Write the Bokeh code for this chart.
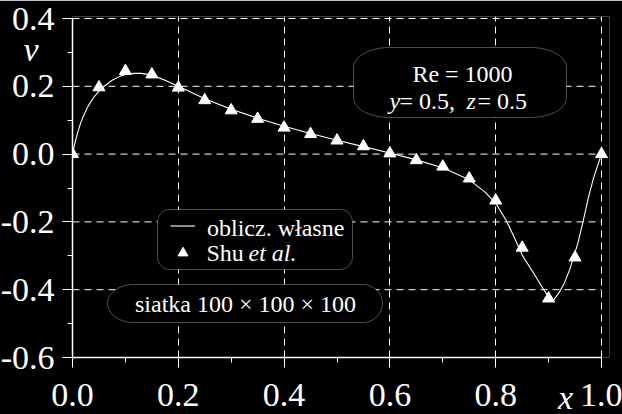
from bokeh.plotting import figure
from bokeh.models import (Range1d, FixedTicker, Label, PolyAnnotation, Legend, LegendItem,
                          LinearAxis)
from bokeh.embed import file_html
from bokeh.resources import INLINE
import math

# ---------------- data ----------------
curve_x = [0.0, 0.005, 0.01, 0.015, 0.02, 0.03, 0.04, 0.05, 0.06, 0.075, 0.09, 0.1,
           0.115, 0.13, 0.15, 0.175, 0.2, 0.25, 0.3, 0.35, 0.4, 0.45, 0.5, 0.55,
           0.6, 0.65, 0.7, 0.75, 0.78, 0.8, 0.82, 0.835, 0.85, 0.87, 0.89, 0.9,
           0.91, 0.92, 0.93, 0.94, 0.955, 0.965, 0.975, 0.985, 1.0]
curve_v = [0.0, 0.035, 0.065, 0.09, 0.11, 0.143, 0.167, 0.186, 0.2, 0.218, 0.23, 0.235,
           0.238, 0.238, 0.233, 0.218, 0.2, 0.163, 0.132, 0.106, 0.082, 0.061, 0.041, 0.022,
           0.003, -0.017, -0.04, -0.076, -0.112, -0.145, -0.196, -0.245, -0.298, -0.347, -0.398, -0.421,
           -0.43, -0.408, -0.38, -0.34, -0.265, -0.2, -0.13, -0.07, 0.0]

shu_x = [0.0, 0.05, 0.1, 0.15, 0.2, 0.25, 0.3, 0.35, 0.4, 0.45, 0.5,
         0.55, 0.6, 0.65, 0.7, 0.75, 0.8, 0.85, 0.9, 0.95, 1.0]
shu_v = [0.0, 0.197, 0.245, 0.235, 0.196, 0.159, 0.129, 0.104, 0.078, 0.059, 0.040,
         0.023, 0.002, -0.018, -0.037, -0.072, -0.137, -0.276, -0.426, -0.305, 0.0]

x_ticks = [0.0, 0.2, 0.4, 0.6, 0.8, 1.0]
x_tick_labels = ["0.0", "0.2", "0.4", "0.6", "0.8", "1.0"]
x_minor = [0.1, 0.3, 0.5, 0.7, 0.9]
y_ticks = [-0.6, -0.4, -0.2, 0.0, 0.2, 0.4]
y_tick_labels = ["-0.6", "-0.4", "-0.2", "0.0", "0.2", "0.4"]
y_minor = [-0.5, -0.3, -0.1, 0.1, 0.3]
x_name, y_name = "x", "v"
legend_texts = ["oblicz. w\u0142asne", "Shu", "et al."]

# ---------------- layout (page pixels) ----------------
AX_L, AX_W, AX_T, AX_H = 72, 529, 18, 339     # data box [0,1]x[-0.6,0.4] on the page
X0, X1, Y0, Y1 = 0.0, 1.0, -0.6, 0.4
PAD_R, PAD_T = 8, 2                          # extra frame room so edge markers are not clipped
SHIFT = 3                                    # canvas shifted left so the left panel fits
BORDER_L = AX_L + SHIFT
LABEL_DY = 6                                 # baseline correction for 24px labels

def px2x(px):
    return X0 + (px - AX_L) / AX_W * (X1 - X0)

def py2y(py):
    return Y1 - (py - AX_T) / AX_H * (Y1 - Y0)

WHITE = "#ffffff"
SERIF = "'Liberation Serif'"

p = figure(frame_width=AX_W + PAD_R, frame_height=AX_H + PAD_T,
           x_range=Range1d(X0, X1 + PAD_R / AX_W),
           y_range=Range1d(Y0, Y1 + PAD_T / AX_H * (Y1 - Y0)),
           output_backend="svg", toolbar_location=None,
           background_fill_color="black", border_fill_color="black",
           outline_line_color=None,
           min_border_left=BORDER_L, min_border_right=622 + SHIFT - BORDER_L - AX_W - PAD_R,
           min_border_top=AX_T - PAD_T, min_border_bottom=414 - AX_T - AX_H)
p.margin = (0, 0, 0, -SHIFT)

for ax, ticks, minor, labels, standoff in ((p.xaxis[0], x_ticks, x_minor, x_tick_labels, 16),
                                           (p.yaxis[0], y_ticks, y_minor, y_tick_labels, 8)):
    ax.ticker = FixedTicker(ticks=ticks, minor_ticks=minor)
    ax.major_label_overrides = {t: l for t, l in zip(ticks, labels)}
    ax.bounds = (ticks[0], ticks[-1])
    ax.axis_line_color = WHITE
    ax.axis_line_width = 1.5
    ax.major_tick_line_color = WHITE
    ax.minor_tick_line_color = WHITE
    ax.major_tick_out = 10
    ax.major_tick_in = 0
    ax.minor_tick_out = 5
    ax.minor_tick_in = 0
    ax.major_label_text_color = WHITE
    ax.major_label_text_font = SERIF
    ax.major_label_text_font_size = "34px"
    ax.major_label_standoff = standoff

# axis names drawn by two label-only axes
def name_axis(tick, label, standoff):
    return LinearAxis(ticker=FixedTicker(ticks=[tick], minor_ticks=[]),
                      major_label_overrides={tick: label},
                      axis_line_color=None, major_tick_line_color=None,
                      minor_tick_line_color=None, major_tick_out=0, minor_tick_out=0,
                      major_tick_in=0, minor_tick_in=0,
                      major_label_standoff=standoff,
                      major_label_text_color=WHITE, major_label_text_font=SERIF,
                      major_label_text_font_style="italic",
                      major_label_text_font_size="34px")

p.add_layout(name_axis(py2y(48.5), y_name, -(38 + SHIFT)), "left")
p.add_layout(name_axis(px2x(565), x_name, -30), "below")

# grid: vertical via Grid, horizontal via segments limited to [0, 1]
p.xgrid.ticker = FixedTicker(ticks=x_ticks[1:])
p.xgrid.grid_line_color = WHITE
p.xgrid.grid_line_dash = "7 5"
p.xgrid.grid_line_width = 1
p.ygrid.visible = False
gy = y_ticks[1:]
p.segment(x0=[x_ticks[0]] * len(gy), x1=[x_ticks[-1]] * len(gy), y0=gy, y1=gy,
          line_color=WHITE, line_width=1, line_dash="7 5")

# data
r_line = p.line(curve_x, curve_v, line_color=WHITE, line_width=1.1)
r_tri = p.scatter(shu_x, shu_v, marker="triangle", size=12,
                  fill_color=WHITE, line_color=WHITE)

# rounded boxes
def rounded(left, right, top, bottom, rxl, rxr, ry, n=12):
    pts = []
    for i in range(n + 1):
        a = -math.pi / 2 + (math.pi / 2) * i / n
        pts.append((right - rxr + rxr * math.cos(a), top + ry + ry * math.sin(a)))
    for i in range(n + 1):
        a = (math.pi / 2) * i / n
        pts.append((right - rxr + rxr * math.cos(a), bottom - ry + ry * math.sin(a)))
    for i in range(n + 1):
        a = math.pi / 2 + (math.pi / 2) * i / n
        pts.append((left + rxl + rxl * math.cos(a), bottom - ry + ry * math.sin(a)))
    for i in range(n + 1):
        a = math.pi + (math.pi / 2) * i / n
        pts.append((left + rxl + rxl * math.cos(a), top + ry + ry * math.sin(a)))
    return PolyAnnotation(xs=[px2x(a) for a, b in pts], ys=[py2y(b) for a, b in pts],
                          fill_color="black", fill_alpha=1.0,
                          line_color=WHITE, line_width=1, level="annotation")

p.add_layout(rounded(353, 566, 47, 117, 36, 36, 20))
p.add_layout(rounded(157, 352, 209, 269, 12, 12, 13))
p.add_layout(rounded(107, 382, 284, 322, 26, 20, 19))

def lab(text, px, py, size="24px", style="normal", align="left"):
    p.add_layout(Label(x=px2x(px), y=py2y(py - LABEL_DY), text=text, text_color=WHITE,
                       text_font=SERIF, text_font_size=size, text_font_style=style,
                       text_align=align, text_baseline="alphabetic"))

lab("Re = 1000", 462, 79, align="center")
lab("y", 389, 106, style="italic")
lab("= 0.5,", 399, 106)
lab("z", 466, 106, style="italic")
lab("= 0.5", 477, 106)

lab("siatka 100 \u00d7 100 \u00d7 100", 245, 309, align="center")

# legend keys (texts are labels so that "et al." can be italic)
legend = Legend(items=[LegendItem(label=" ", renderers=[r_line]),
                       LegendItem(label=" ", renderers=[r_tri])],
                location=(170 - AX_L, 357 - 266), padding=0, margin=0, spacing=0,
                glyph_width=25, glyph_height=27, label_height=10, label_standoff=0,
                label_text_font=SERIF, label_text_font_size="8px",
                label_text_color=WHITE,
                border_line_alpha=0, background_fill_alpha=0)
p.add_layout(legend)
lab(legend_texts[0], 206.5, 233)
lab(legend_texts[1], 206, 258.5)
lab(legend_texts[2], 248, 258.5, style="italic")

open("out.html", "w").write(file_html(p, INLINE))
